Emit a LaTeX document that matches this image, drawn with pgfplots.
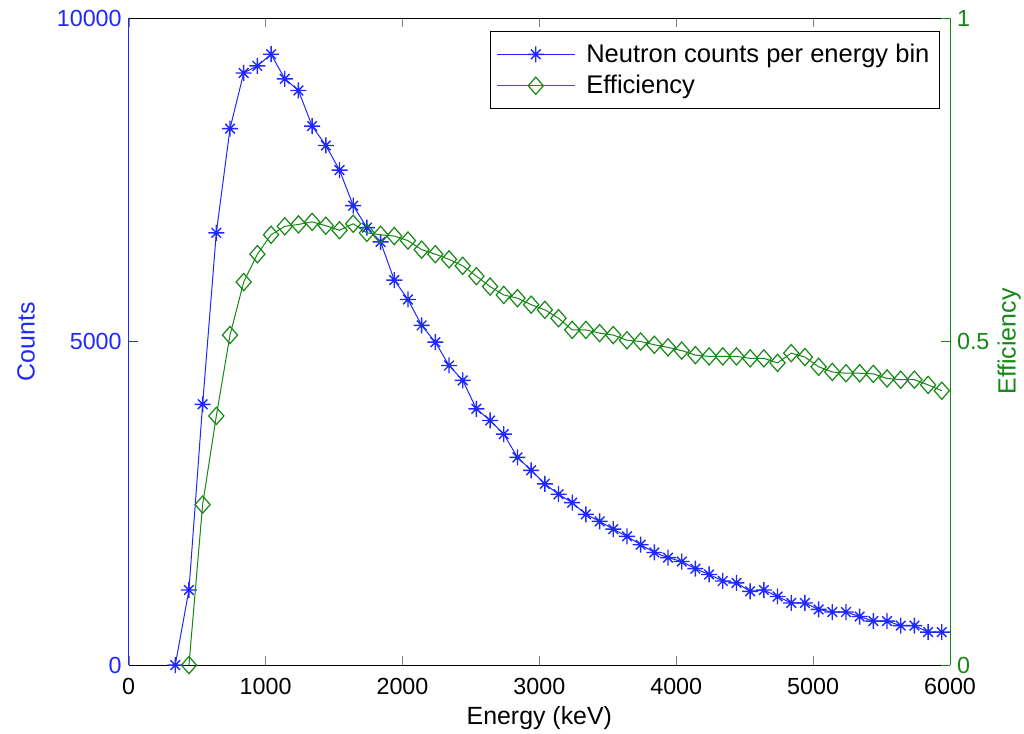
\documentclass[border=0pt]{standalone}
\usepackage{pgfplots}
\pgfplotsset{compat=1.18}
\usepackage{fontspec}
\setmainfont{Liberation Sans}
\definecolor{mblue}{RGB}{30,40,255}
\definecolor{mgreen}{RGB}{20,135,20}
\pgfdeclareplotmark{mstar}{%
 \pgfpathmoveto{\pgfqpoint{-\pgfplotmarksize}{0pt}}\pgfpathlineto{\pgfqpoint{\pgfplotmarksize}{0pt}}%
 \pgfpathmoveto{\pgfqpoint{0pt}{-\pgfplotmarksize}}\pgfpathlineto{\pgfqpoint{0pt}{\pgfplotmarksize}}%
 \pgfpathmoveto{\pgfqpoint{-.6\pgfplotmarksize}{-.6\pgfplotmarksize}}\pgfpathlineto{\pgfqpoint{.6\pgfplotmarksize}{.6\pgfplotmarksize}}%
 \pgfpathmoveto{\pgfqpoint{-.6\pgfplotmarksize}{.6\pgfplotmarksize}}\pgfpathlineto{\pgfqpoint{.6\pgfplotmarksize}{-.6\pgfplotmarksize}}%
 \pgfusepathqstroke}
\pgfdeclareplotmark{mdiamond}{%
 \pgfpathmoveto{\pgfqpoint{0pt}{\pgfplotmarksize}}%
 \pgfpathlineto{\pgfqpoint{.88\pgfplotmarksize}{0pt}}%
 \pgfpathlineto{\pgfqpoint{0pt}{-\pgfplotmarksize}}%
 \pgfpathlineto{\pgfqpoint{-.88\pgfplotmarksize}{0pt}}%
 \pgfpathclose\pgfusepathqstroke}
\pgfplotstableread{
x y
340 0
440 1160
540 4030
640 6680
740 8290
840 9150
940 9260
1040 9440
1140 9060
1240 8880
1340 8330
1440 8030
1540 7650
1640 7100
1740 6760
1840 6540
1940 5950
2040 5650
2140 5250
2240 4990
2340 4630
2440 4400
2540 3960
2640 3780
2740 3570
2840 3210
2940 3010
3040 2800
3140 2640
3240 2510
3340 2330
3440 2220
3540 2100
3640 1990
3740 1860
3840 1740
3940 1660
4040 1600
4140 1490
4240 1400
4340 1300
4440 1270
4540 1140
4640 1160
4740 1060
4840 960
4940 960
5040 860
5140 820
5240 820
5340 750
5440 680
5540 680
5640 610
5740 610
5840 510
5940 510
}\counts
\pgfplotstableread{
x y
440 0
540 0.248
640 0.385
740 0.510
840 0.592
940 0.635
1040 0.665
1140 0.678
1240 0.681
1340 0.685
1440 0.679
1540 0.672
1640 0.682
1740 0.668
1840 0.665
1940 0.663
2040 0.656
2140 0.642
2240 0.635
2340 0.627
2440 0.617
2540 0.601
2640 0.585
2740 0.572
2840 0.567
2940 0.557
3040 0.549
3140 0.536
3240 0.518
3340 0.518
3440 0.513
3540 0.510
3640 0.502
3740 0.500
3840 0.495
3940 0.491
4040 0.486
4140 0.479
4240 0.477
4340 0.477
4440 0.477
4540 0.474
4640 0.474
4740 0.467
4840 0.482
4940 0.476
5040 0.461
5140 0.453
5240 0.451
5340 0.451
5440 0.450
5540 0.443
5640 0.441
5740 0.441
5840 0.433
5940 0.424
}\eff
\begin{document}
\begin{tikzpicture}
\pgfplotsset{
  common/.style={
    scale only axis, width=410.6bp, height=323.5bp,
    xmin=0, xmax=6000,
    tick align=inside, major tick length=4.5bp,
    /pgf/number format/assume math mode=true,
    /pgf/number format/1000 sep={},
    scaled ticks=false,
    tick label style={font=\fontsize{11.7}{14}\selectfont},
    label style={font=\fontsize{12.5}{15}\selectfont},
    every axis plot/.append style={line width=0.5bp},
  }
}
\begin{axis}[common, name=main,
  ymin=0, ymax=10000,
  axis y line*=left,
  xtick={0,1000,...,6000},
  ytick={0,5000,10000},
  xticklabel style={yshift=-3bp},
  y axis line style={draw=mblue},
  ytick style={draw=mblue},
  yticklabel style={text=mblue},
  xlabel={Energy (keV)},
  xlabel style={at={(axis description cs:0.5,-0.082)}, anchor=center},
  ylabel={Counts},
  ylabel style={at={(axis description cs:-0.125,0.5)}, anchor=center, text=mblue},
]
\addplot[mblue, mark=mstar, mark size=4bp, mark options={line width=0.7bp}] table[x=x,y=y] {\counts};
\end{axis}
\begin{axis}[common,
  ymin=0, ymax=1,
  axis x line=none,
  axis y line*=right,
  ytick={0,0.5,1},
  yticklabels={0,0.5,1},
  y axis line style={draw=mgreen},
  ytick style={draw=mgreen},
  yticklabel style={text=mgreen},
  ylabel={Efficiency},
  ylabel style={at={(axis description cs:1.072,0.5)}, anchor=center, text=mgreen},
  legend cell align=left,
  legend style={at={(axis description cs:1,1)}, xshift=-5bp, yshift=-6.5bp, anchor=north east,
    draw=black, line width=0.6bp, font=\fontsize{12.8}{15}\selectfont,
    inner xsep=3bp, inner ysep=4bp, row sep=1bp},
  legend image code/.code={\draw[#1, mark repeat=2, mark phase=2] plot coordinates {(0bp,0bp) (19.5bp,0bp) (39bp,0bp)};
    \path (42.5bp,0bp);},
]
\addlegendimage{mblue, line width=0.5bp, mark=mstar, mark size=4bp, mark options={line width=0.7bp}}
\addlegendentry{Neutron counts per energy bin}
\addplot[mgreen, mark=mdiamond, mark size=4.3bp, mark options={line width=0.6bp}] table[x=x,y=y] {\eff};
\addlegendentry{Efficiency}
\end{axis}
\pgfresetboundingbox
\path[use as bounding box] ([shift={(-64.35bp,-34bp)}]main.south west) rectangle ([shift={(37bp,9bp)}]main.north east);
\end{tikzpicture}
\end{document}
